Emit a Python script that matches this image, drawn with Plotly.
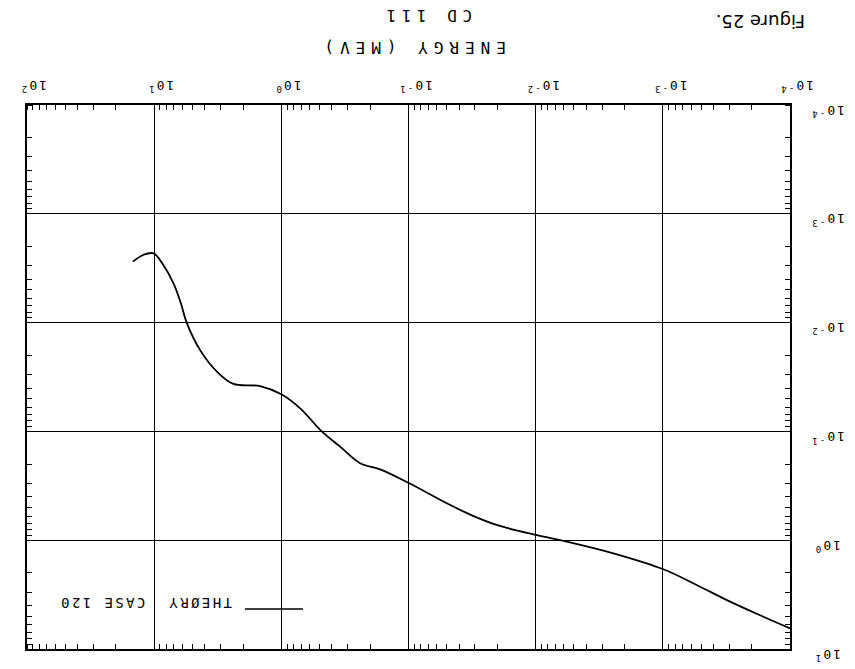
import math
import plotly.graph_objects as go

# Cross section vs. energy, theory curve (case 120)
energy_mev = [14.7, 12.2, 10.1, 8.47, 7.05, 6.22, 5.53, 4.35, 3.21, 2.38, 1.47, 1.0,
              0.711, 0.481, 0.345, 0.240, 0.167, 0.0984, 0.050, 0.0308, 0.0191,
              0.00993, 0.0057, 0.00245, 0.00099, 5.42e-4, 2.96e-4, 1.62e-4, 1.0e-4]
theory_case120 = [2.75e-3, 2.39e-3, 2.31e-3, 2.96e-3, 4.36e-3, 6.43e-3, 1.01e-2, 1.79e-2,
                  2.82e-2, 3.66e-2, 3.83e-2, 4.56e-2, 6.14e-2, 0.100, 0.138, 0.196,
                  0.223, 0.300, 0.458, 0.600, 0.740, 0.895, 1.03, 1.32, 1.85, 2.58,
                  3.67, 5.05, 6.46]

x_tickvals = [1e-4, 1e-3, 1e-2, 1e-1, 1e0, 1e1, 1e2]
x_ticktext = ["10<sup>-4</sup>", "10<sup>-3</sup>", "10<sup>-2</sup>", "10<sup>-1</sup>",
              "10<sup>0</sup>", "10<sup>1</sup>", "10<sup>2</sup>"]
y_tickvals = [1e-4, 1e-3, 1e-2, 1e-1, 1e0, 1e1]
y_ticktext = ["10<sup>-4</sup>", "10<sup>-3</sup>", "10<sup>-2</sup>", "10<sup>-1</sup>",
              "10<sup>0</sup>", "10<sup>1</sup>"]

PLOT_FONT = "DejaVu Sans Mono"


def spaced(text, px):
    return f'<span style="letter-spacing:{px}px">{text}</span>'


fig = go.Figure()
fig.add_trace(go.Scatter(
    x=energy_mev, y=theory_case120, mode="lines",
    line=dict(color="black", width=1.8, shape="spline", smoothing=1.0),
    showlegend=False, hoverinfo="skip"))

axis_common = dict(
    type="log", showgrid=True, gridcolor="black", gridwidth=1.3,
    showline=True, linecolor="black", linewidth=1.8, mirror="allticks",
    ticks="", zeroline=False, showticklabels=False,
    minor=dict(ticks="inside", ticklen=5, tickcolor="black", tickwidth=1.3,
               dtick="D1", showgrid=False),
)

fig.update_xaxes(**axis_common, range=[2, -4], side="top", tickvals=x_tickvals)
fig.update_yaxes(**axis_common, range=[1, -4], side="right", tickvals=y_tickvals)

tick_font = dict(family=PLOT_FONT, size=13, color="black")

# decade labels, turned half a revolution like the rest of the sheet
for v, t in zip(x_tickvals, x_ticktext):
    fig.add_annotation(xref="x", yref="paper", x=math.log10(v), y=(649 - 86) / 544,
                       text=spaced(t, 2), showarrow=False, textangle=180,
                       xanchor="center", yanchor="middle", xshift=7, font=tick_font)
for v, t in zip(y_tickvals, y_ticktext):
    fig.add_annotation(xref="paper", yref="y", x=(828 - 27) / 763, y=math.log10(v),
                       text=spaced(t, 2), showarrow=False, textangle=180,
                       xanchor="center", yanchor="middle", yshift=-6, font=tick_font)

# legend entry: short line sample with label
fig.add_shape(type="line", xref="paper", yref="paper",
              x0=(245 - 27) / 763, x1=(303 - 27) / 763,
              y0=(649 - 609) / 544, y1=(649 - 609) / 544,
              line=dict(color="black", width=1.6))

annotations = [
    dict(text=spaced("THE\u00d8RY  CASE 120", 2.4), x=(146 - 27) / 763, y=(649 - 603) / 544,
         font=dict(family=PLOT_FONT, size=14, color="black")),
    dict(text=spaced("ENERGY (MEV)", 6), x=(412 - 27) / 763, y=(649 - 47.5) / 544,
         font=dict(family=PLOT_FONT, size=16, color="black")),
    dict(text=spaced("CD 111", 5.5), x=(427 - 27) / 763, y=(649 - 15.5) / 544,
         font=dict(family=PLOT_FONT, size=16, color="black")),
    dict(text="Figure 25.", x=(761 - 27) / 763, y=(649 - 22) / 544,
         font=dict(family="DejaVu Sans", size=18, color="black")),
]
for a in annotations:
    fig.add_annotation(xref="paper", yref="paper", showarrow=False, textangle=180,
                       xanchor="center", yanchor="middle", **a)

fig.update_layout(
    width=855, height=669,
    margin=dict(l=27, r=65, t=105, b=20),
    paper_bgcolor="white", plot_bgcolor="white",
)

fig.write_html("out.html")
